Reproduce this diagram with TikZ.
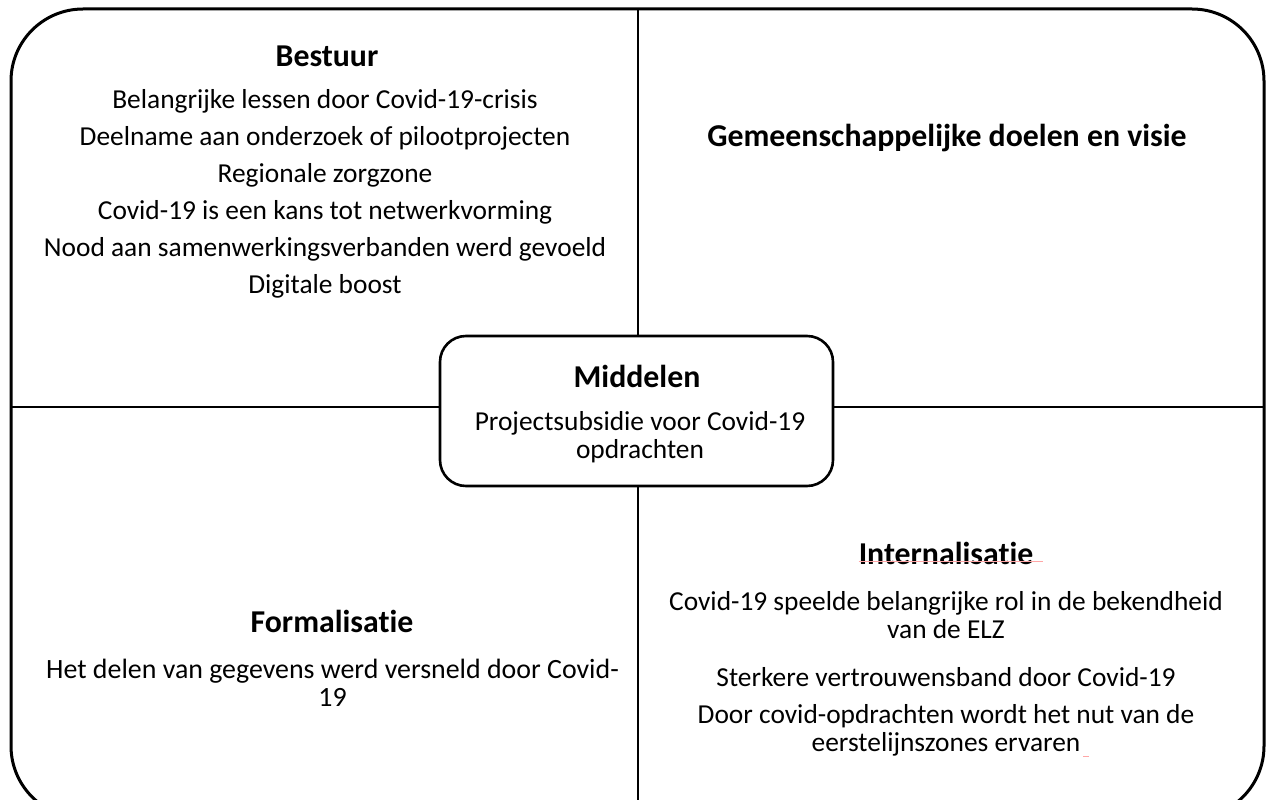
\documentclass[tikz,border=0pt]{standalone}
\usepackage{fontspec}
\setmainfont{Carlito}[Ligatures=NoCommon]
\tikzset{
  frame/.style={line width=3pt, rounded corners=72pt},
  divider/.style={line width=2.6pt},
  hub/.style={draw, line width=2.6pt, rounded corners=26pt, fill=white,
    minimum width=393pt, minimum height=150pt},
  title/.style={font=\fontsize{31.8}{36}\selectfont\bfseries, inner sep=0pt},
  item/.style={font=\fontsize{27.4}{28}\selectfont, inner sep=0pt, align=center},
  spell/.style={draw=red!35, line width=1pt}
}
\begin{document}
\begin{tikzpicture}[x=1pt,y=-1pt]
\useasboundingbox (0,0) rectangle (1275,800);
\clip (0,0) rectangle (1275,800);

% outer frame and quadrant dividers
\draw[frame] (11,9) rectangle (1264,818);
\coordinate (top) at (638,9);
\coordinate (bottom) at (638,800);
\coordinate (left) at (11,407);
\coordinate (right) at (1264,407);
\node[hub] (hub) at (636.5,411) {};
\draw[divider] (top) -- (top |- hub.north);
\draw[divider] (bottom |- hub.south) -- (bottom);
\draw[divider] (left) -- (left -| hub.west);
\draw[divider] (right -| hub.east) -- (right);

% centre: Middelen
\node[title] (mid) at (637,376) {Middelen};
\node[item] (mid1) at (640,437) {Projectsubsidie voor Covid-19\\opdrachten};

% top left: Bestuur
\node[title] (best) at (327,56) {Bestuur};
\node[item] (b1) at (325,101) {Belangrijke lessen door Covid-19-crisis};
\node[item] (b2) at (325,138) {Deelname aan onderzoek of pilootprojecten};
\node[item] (b3) at (325,175) {Regionale zorgzone};
\node[item] (b4) at (325,212) {Covid-19 is een kans tot netwerkvorming};
\node[item] (b5) at (325,249) {Nood aan samenwerkingsverbanden werd gevoeld};
\node[item] (b6) at (325,286) {Digitale boost};

% top right
\node[title] (gem) at (947,138) {Gemeenschappelijke doelen en visie};

% bottom left: Formalisatie
\node[title] (form) at (332,621) {Formalisatie};
\node[item, font=\fontsize{27.9}{28}\selectfont] (f1) at (332.5,683) {Het delen van gegevens werd versneld door Covid-\\19};

% bottom right: Internalisatie
\node[title] (intl) at (946,553) {Internalisatie};
\draw[spell] ([yshift=3pt]intl.south west) -- ([xshift=10pt,yshift=3pt]intl.south east);
\node[item] (i1) at (946,615) {Covid-19 speelde belangrijke rol in de bekendheid\\van de ELZ};
\node[item] (i2) at (946,677) {Sterkere vertrouwensband door Covid-19};
\node[item] (i3) at (946,730) {Door covid-opdrachten wordt het nut van de\\eerstelijnszones ervaren};
\coordinate (mark) at (1083,756);
\draw[spell] (mark) -- ++(6,0);
\end{tikzpicture}
\end{document}
